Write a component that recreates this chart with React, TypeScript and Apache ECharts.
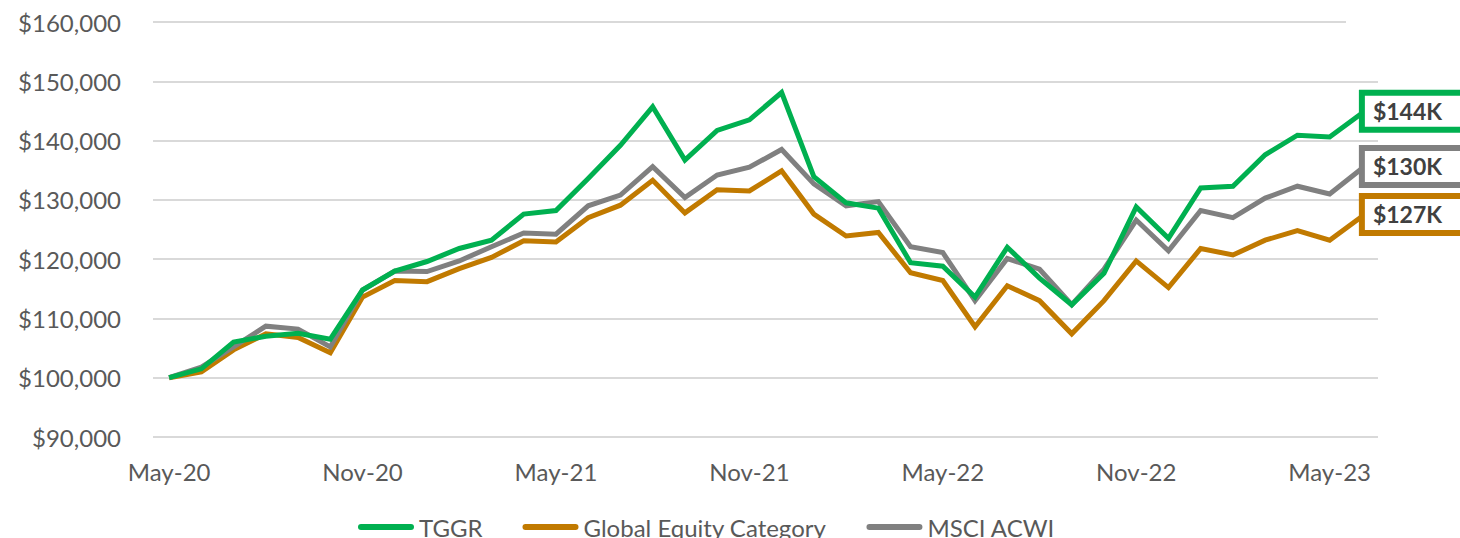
import React, { useEffect, useRef } from "react";
import * as echarts from "echarts";

const months = [
  "May-20", "Jun-20", "Jul-20", "Aug-20", "Sep-20", "Oct-20", "Nov-20", "Dec-20",
  "Jan-21", "Feb-21", "Mar-21", "Apr-21", "May-21", "Jun-21", "Jul-21", "Aug-21",
  "Sep-21", "Oct-21", "Nov-21", "Dec-21", "Jan-22", "Feb-22", "Mar-22", "Apr-22",
  "May-22", "Jun-22", "Jul-22", "Aug-22", "Sep-22", "Oct-22", "Nov-22", "Dec-22",
  "Jan-23", "Feb-23", "Mar-23", "Apr-23", "May-23", "Jun-23",
];

const tggr = [
  100000, 101500, 106000, 107000, 107500, 106500, 114800, 118000,
  119600, 121800, 123200, 127600, 128200, 133600, 139200, 145700,
  136700, 141700, 143500, 148100, 133900, 129500, 128600, 119400,
  118800, 113600, 122000, 116800, 112300, 117600, 128800, 123500,
  132000, 132300, 137600, 140900, 140600, 144600,
];

const globalEquity = [
  100000, 101000, 104700, 107400, 106800, 104200, 113600, 116400,
  116200, 118400, 120300, 123100, 122900, 127000, 129100, 133300,
  127800, 131700, 131500, 134900, 127600, 123900, 124500, 117700,
  116400, 108600, 115500, 113000, 107400, 113000, 119700, 115200,
  121800, 120700, 123200, 124800, 123200, 127200,
];

const msciAcwi = [
  100000, 101800, 105200, 108700, 108200, 105200, 114800, 118000,
  117900, 119700, 122100, 124400, 124200, 129000, 130800, 135600,
  130400, 134200, 135500, 138500, 132700, 129000, 129700, 122100,
  121100, 113000, 120100, 118300, 112300, 118300, 126600, 121400,
  128200, 127000, 130300, 132300, 131000, 135300,
];

const seriesNames = ["TGGR", "Global Equity Category", "MSCI ACWI"];
const endLabels = ["$144K", "$127K", "$130K"];
const colors = ["#00B050", "#C17A00", "#808080"];

const yMin = 90000;
const yMax = 160000;
const yStep = 10000;

const FONT = "Lato";
const pill = "path://M3,0 H53 A3,3 0 0 1 53,6 H3 A3,3 0 0 1 3,0 Z";

export default function App() {
  const ref = useRef<HTMLDivElement>(null);
  useEffect(() => {
    if (!ref.current) return;
    const chart = echarts.init(ref.current, null, { renderer: "svg" });
    const data = [tggr, globalEquity, msciAcwi];
    chart.setOption({
      animation: false,
      backgroundColor: "#ffffff",
      textStyle: { fontFamily: FONT },
      grid: { left: 153, right: 82, top: 22, bottom: 101, containLabel: false },
      xAxis: {
        type: "category",
        data: months,
        boundaryGap: true,
        axisLine: { show: false },
        axisTick: { show: false },
        axisLabel: {
          interval: 5,
          color: "#595959",
          fontSize: 24,
          fontFamily: FONT,
          margin: 22,
        },
        splitLine: { show: false },
      },
      yAxis: {
        type: "value",
        min: yMin,
        max: yMax,
        interval: yStep,
        axisLine: { show: false },
        axisTick: { show: false },
        axisLabel: {
          color: "#595959",
          fontSize: 24,
          fontFamily: FONT,
          margin: 32,
          formatter: (v: number) => "$" + v.toLocaleString("en-US"),
        },
        splitLine: { lineStyle: { color: "#D9D9D9", width: 2 } },
      },
      legend: {
        bottom: -6,
        left: 353,
        itemWidth: 56,
        itemHeight: 6,
        itemGap: 40,
        icon: pill,
        textStyle: { color: "#595959", fontSize: 24, fontFamily: FONT, padding: [0, 0, 0, 0] },
        data: seriesNames,
      },
      series: seriesNames.map((name, i) => ({
        name,
        type: "line",
        data: data[i],
        symbol: "none",
        z: i === 0 ? 3 : i === 2 ? 2 : 1,
        color: colors[i],
        lineStyle: { color: colors[i], width: 5, join: "miter" },
        endLabel: {
          show: true,
          distance: 3,
          offset: [0, -2],
          formatter: () => endLabels[i],
          color: "#404040",
          fontSize: 23,
          fontWeight: "bold",
          fontFamily: FONT,
          backgroundColor: "#ffffff",
          borderColor: colors[i],
          borderWidth: 6,
          padding: [5, 40, 3, 8],
        },
      })),
      graphic: [
        {
          type: "rect",
          shape: { x: 1346, y: 18, width: 40, height: 8 },
          style: { fill: "#ffffff" },
          z: 100,
        },
      ],
    });
    return () => chart.dispose();
  }, []);
  return (
    <div
      ref={ref}
      style={{ position: "fixed", left: 0, top: 0, width: 1460, height: 538 }}
    />
  );
}
